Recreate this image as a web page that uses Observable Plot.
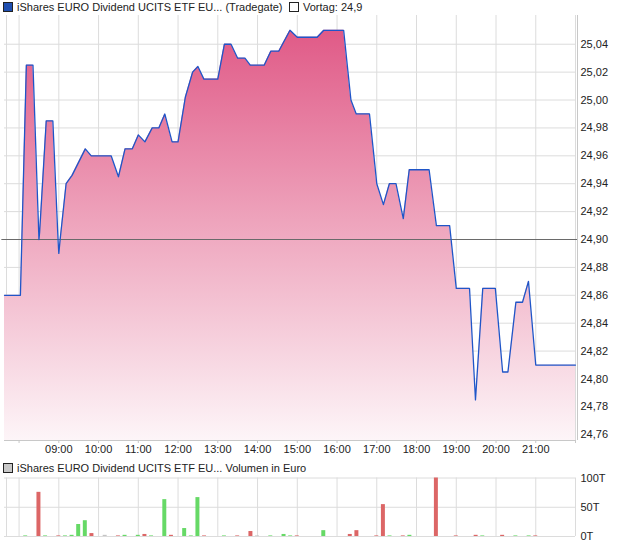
<!DOCTYPE html>
<html><head><meta charset="utf-8">
<script src="https://cdn.jsdelivr.net/npm/d3@7"></script>
<script src="https://cdn.jsdelivr.net/npm/@observablehq/plot@0.6"></script>
<style>
body{margin:0;background:#fff;font-family:"Liberation Sans",Arial,sans-serif;}
#wrap{position:relative;width:620px;height:546px;overflow:hidden;}
.leg{position:absolute;font-size:11px;color:#222;white-space:nowrap;line-height:13px;}
.sq{display:inline-block;width:8px;height:8px;border:1px solid #222;vertical-align:-1px;margin-right:4px;}
#p1{position:absolute;left:0;top:0;}
#p2{position:absolute;left:0;top:470px;}
</style></head><body>
<div id="wrap">
<div id="p1"></div>
<div id="p2"></div>
<div class="leg" style="left:3px;top:1px"><span class="sq" style="background:#1f4fb0"></span>iShares EURO Dividend UCITS ETF EU... (Tradegate)</div>
<div class="leg" style="left:289px;top:1px"><span class="sq" style="background:#fff"></span>Vortag: 24,9</div>
<div class="leg" style="left:3px;top:462px"><span class="sq" style="background:#c8c8c8"></span>iShares EURO Dividend UCITS ETF EU... Volumen in Euro</div>
</div>
<script>
// price series (time, price)
const priceTimes = ["07:38","08:02","08:11","08:21","08:30","08:31","08:41","08:51","08:59","09:00","09:02","09:11","09:20","09:40","09:49","10:19","10:30","10:40","10:51","11:00","11:10","11:21","11:31","11:40","11:51","12:00","12:11","12:22","12:30","12:39","13:00","13:10","13:20","13:30","13:41","13:49","14:10","14:20","14:32","14:49","15:00","15:30","15:40","16:10","16:15","16:21","16:29","16:49","16:55","17:00","17:10","17:19","17:29","17:40","17:49","18:19","18:30","18:50","19:00","19:20","19:29","19:40","19:59","20:10","20:18","20:30","20:40","20:49","21:00","22:00"];
const priceValues = [24.86,24.86,25.025,25.025,24.90,24.905,24.985,24.985,24.898,24.89,24.90,24.94,24.946,24.965,24.96,24.96,24.945,24.965,24.965,24.975,24.97,24.98,24.98,24.99,24.97,24.97,25.002,25.02,25.024,25.015,25.015,25.04,25.04,25.03,25.03,25.025,25.025,25.035,25.035,25.05,25.045,25.045,25.05,25.05,25.027,25.00,24.99,24.99,24.963,24.94,24.925,24.94,24.94,24.915,24.95,24.95,24.91,24.91,24.865,24.865,24.785,24.865,24.865,24.805,24.805,24.855,24.855,24.87,24.81,24.81];
const previousClose = 24.90;
const priceTicks = [24.76,24.78,24.80,24.82,24.84,24.86,24.88,24.90,24.92,24.94,24.96,24.98,25.00,25.02,25.04];
const hourTicks = ["08:00","09:00","10:00","11:00","12:00","13:00","14:00","15:00","16:00","17:00","18:00","19:00","20:00","21:00","22:00"];
const hourLabels = ["","09:00","10:00","11:00","12:00","13:00","14:00","15:00","16:00","17:00","18:00","19:00","20:00","21:00",""];

// volume series (time, thousand EUR, direction)
const volTimes = ["08:10","08:30","08:40","09:00","09:10","09:20","09:30","09:40","09:50","10:10","10:30","10:40","11:00","11:10","11:20","11:40","11:50","12:10","12:20","12:30","12:40","13:10","13:30","13:50","14:00","14:20","14:40","14:50","15:00","15:40","16:20","16:30","17:00","17:10","17:20","17:40","17:50","18:30","19:00","19:30","19:40","20:10","20:30","20:50","21:00"];
const volValues = [1,75.5,1,1,1,2,20.5,27,5,2,1,2,2,3.5,1,63,2,13.6,1,66.5,1,1,1,8.5,1,1,3.5,1,1,10,3.5,10,1,54.5,1,1,2,100,1,2,1,2,1,1,1];
const volDir = ["u","d","u","d","u","u","u","u","d","n","d","u","u","d","u","u","d","u","u","u","d","u","d","d","n","u","u","u","d","u","d","d","d","d","u","d","u","d","d","d","u","d","u","u","d"];
const volTicks = [0,50,100];

const T = s => { const [h,m] = s.split(":").map(Number); return new Date(Date.UTC(2024,0,1,h,m)); };
const xDomain = [T("07:38"), T("22:00")];
const fmtP = d => d.toFixed(2).replace(".", ",");
const priceData = priceTimes.map((t,i) => ({t:T(t), v:priceValues[i]}));
const volData = volTimes.map((t,i) => ({t:T(t), v:volValues[i], d:volDir[i]}));
const hourDates = hourTicks.map(T);
const labelOf = new Map(hourTicks.map((h,i)=>[+T(h), hourLabels[i]]));

const grid = "#dcdcdc";
const yLo = 24.7559, yHi = 25.0606;

const p1 = Plot.plot({
  width: 620, height: 455,
  marginTop: 15, marginBottom: 15, marginLeft: 4, marginRight: 45,
  style: {fontFamily: '"Liberation Sans", Arial, sans-serif', fontSize: "11px", color: "#222", background: "transparent"},
  x: {type: "utc", domain: xDomain, label: null},
  y: {domain: [yLo, yHi], label: null},
  marks: [
    () => {
      const svg = d3.create("svg:defs");
      const g = svg.append("linearGradient").attr("id","fillGrad").attr("x1",0).attr("x2",0).attr("y1",0).attr("y2",1);
      g.append("stop").attr("offset","0%").attr("stop-color","#e05a87");
      g.append("stop").attr("offset","50%").attr("stop-color","#efa9c0");
      g.append("stop").attr("offset","100%").attr("stop-color","#fdf5f8");
      return svg.node();
    },
    Plot.ruleY(priceTicks, {stroke: grid, strokeWidth: 1}),
    Plot.ruleX(hourDates, {stroke: grid, strokeWidth: 1}),
    Plot.ruleX([T("07:38")], {stroke: grid, dx: 2}),
    Plot.areaY(priceData, {x: "t", y1: yLo, y2: "v", fill: "url(#fillGrad)"}),
    Plot.ruleY([previousClose], {stroke: "#6a6a6a", strokeWidth: 1.2, x1: T("07:34"), x2: T("22:04")}),
    Plot.lineY(priceData, {x: "t", y: "v", stroke: "#1f55c8", strokeWidth: 1.3}),
    Plot.ruleY([yLo], {stroke: "#c8c8c8"}),
    Plot.ruleX([T("22:00")], {stroke: "#c8c8c8", dx: 2}),
    Plot.axisY(priceTicks, {anchor: "right", tickSize: 0, tickPadding: 5, tickFormat: fmtP, fill: "#222", label: null}),
    Plot.axisX(hourDates, {tickSize: 3, tickPadding: 2, tickFormat: d => labelOf.get(+d), stroke: "#c8c8c8", fill: "#222", label: null})
  ]
});
document.getElementById("p1").appendChild(p1);

const colorOf = {u: "#66d966", d: "#dc6666", n: "#c4c4c4"};
const p2 = Plot.plot({
  width: 620, height: 76,
  marginTop: 7.5, marginBottom: 10, marginLeft: 4, marginRight: 45,
  style: {fontFamily: '"Liberation Sans", Arial, sans-serif', fontSize: "11px", color: "#222", background: "transparent"},
  x: {type: "utc", domain: xDomain, axis: null, label: null},
  y: {domain: [0, 100], label: null},
  marks: [
    Plot.ruleY(volTicks, {stroke: grid}),
    Plot.ruleX(hourDates, {stroke: grid, y1: 0, y2: 100}),
    Plot.ruleX([T("07:38")], {stroke: grid, dx: 2, y1: 0, y2: 100}),
    Plot.rectY(volData, {
      x1: d => new Date(+d.t - 180000), x2: d => new Date(+d.t + 180000),
      y1: 0, y2: "v", fill: d => colorOf[d.d]
    }),
    Plot.axisY(volTicks, {anchor: "right", tickSize: 0, tickPadding: 5, tickFormat: d => d + "T", fill: "#222", label: null})
  ]
});
document.getElementById("p2").appendChild(p2);
</script>
</body></html>
